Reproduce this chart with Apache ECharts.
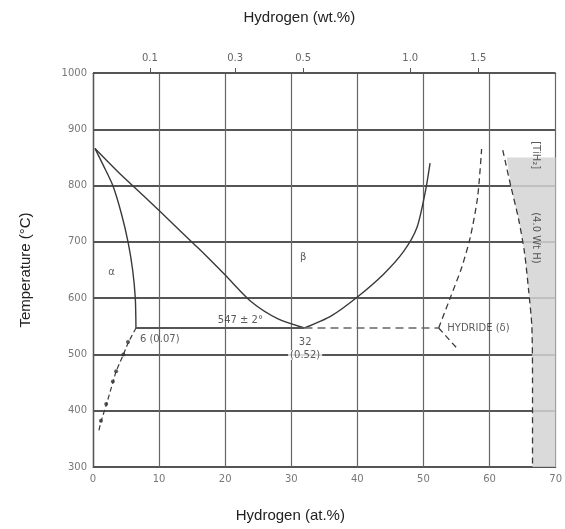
<!DOCTYPE html>
<html><head><meta charset="utf-8">
<script src="https://cdn.jsdelivr.net/npm/echarts@6/dist/echarts.min.js"></script>
<style>html,body{margin:0;padding:0;background:#fff}#c{width:565px;height:529px}</style>
</head><body><div id="c"></div>
<script>
// ---- data ----
const xTicks = [0,10,20,30,40,50,60,70];
const yTicks = [300,400,500,600,700,800,900,1000];
const wtLabels = ["0.1","0.3","0.5","1.0","1.5"];
const wtPositions = [8.6,21.5,31.8,48,58.3];

const alphaSolvus = [[0.3,866],[1.6,835],[3.0,800],[4.3,750],[5.3,700],[6.0,650],[6.4,600],[6.5,547]];
const alphaLow = [[6.5,547],[5.3,520],[4.6,500],[3.5,470],[3.0,450],[2.0,410],[1.2,380],[0.8,360]];
const alphaLowPts = [[5.3,522],[4.6,500],[3.5,470],[3.0,452],[2.0,412],[1.2,382]];
const betaTransus = [[0.3,866],[4,822],[8,778],[12,733],[16,688],[20,641],[24,593],[28,563],[32,547]];
const betaRight = [[32,547],[36,568],[40,602],[44,643],[47,683],[49,725],[50.3,790],[51,840]];
const eutectoidSolid = [[6.5,547],[32,547]];
const eutectoidDashed = [[32,547],[52.3,547]];
const hydrideBoundary = [[52.3,547],[54.1,602],[55.8,655],[57.1,709],[58.2,780],[58.8,865]];
const hydrideLower = [[52.3,547],[55.3,508]];
const rightBoundary = [[62,863],[63.2,800],[64.4,740],[65.3,680],[65.9,615],[66.4,550],[66.5,450],[66.5,300]];
const shadeRegion = [[62.6,850],[63.2,800],[64.4,740],[65.3,680],[65.9,615],[66.4,550],[66.5,450],[66.5,300],[70,300],[70,850]];

const labels = [
  {v:[2.8,645], t:"α", a:"center"},
  {v:[31.8,673], t:"β", a:"center"},
  {v:[22.3,561], t:"547 ± 2°", a:"center"},
  {v:[7.1,527], t:"6 (0.07)", a:"left"},
  {v:[32.1,522], t:"32", a:"center"},
  {v:[32.1,499], t:"(0.52)", a:"center", bg:true},
  {v:[53.6,547], t:"HYDRIDE (δ)", a:"left"}
];
const rotLabels = [
  {v:[67,854], t:"[TiH₂]"},
  {v:[67,707], t:"(4.0 Wt H)"}
];

const lineCol = '#3a3a3a';
const chart = echarts.init(document.getElementById('c'));
function line(data, opts){
  return Object.assign({type:'line', data, showSymbol:false, symbol:'none', smooth:false, silent:true,
    lineStyle:{color:lineCol, width:1.4}, z:5}, opts||{});
}
chart.setOption({
  animation:false,
  backgroundColor:'#fff',
  grid:{left:93, right:9, top:73, bottom:62},
  xAxis:[{
    type:'value', min:0, max:70, interval:10, position:'bottom',
    name:'Hydrogen (at.%)', nameLocation:'middle', nameGap:41,
    nameTextStyle:{color:'#222', fontSize:15, fontFamily:'Liberation Sans', padding:[0,68,0,0]},
    axisLine:{show:true, lineStyle:{color:'#555', width:1.2}},
    axisTick:{show:false},
    axisLabel:{color:'#777', fontSize:10, fontFamily:'DejaVu Sans', margin:7},
    splitLine:{show:true, lineStyle:{color:'#666', width:1.2}}
  },{
    type:'value', min:0, max:70, position:'top',
    name:'Hydrogen (wt.%)', nameLocation:'middle', nameGap:48,
    nameTextStyle:{color:'#222', fontSize:15, fontFamily:'Liberation Sans', padding:[0,50,0,0]},
    axisLine:{show:true, lineStyle:{color:'#555', width:1.2}},
    axisTick:{show:true, length:5, lineStyle:{color:'#555'}, customValues:wtPositions},
    axisLabel:{color:'#666', fontSize:10, fontFamily:'DejaVu Sans', margin:10, customValues:wtPositions,
      formatter:(v)=>{const i=wtPositions.indexOf(v); return i>=0?wtLabels[i]:'';}},
    splitLine:{show:false}
  }],
  yAxis:[{
    type:'value', min:300, max:1000, interval:100,
    name:'Temperature (°C)', nameLocation:'middle', nameGap:60,
    nameTextStyle:{color:'#222', fontSize:15, fontFamily:'Liberation Sans'},
    axisLine:{show:true, lineStyle:{color:'#555', width:1.2}},
    axisTick:{show:false},
    axisLabel:{color:'#777', fontSize:10, fontFamily:'DejaVu Sans', margin:6, formatter:(v)=>String(v)},
    splitLine:{show:true, lineStyle:{color:'#555', width:1.8}}
  },{
    type:'value', min:300, max:1000, position:'right',
    axisLine:{show:true, lineStyle:{color:'#555', width:1.2}},
    axisTick:{show:false}, axisLabel:{show:false}, splitLine:{show:false}
  }],
  series:[
    {type:'custom', silent:true, z:1, data:[0],
      renderItem:(params, api)=>({type:'polygon',
        shape:{points: shadeRegion.map(p=>api.coord(p))},
        style:{fill:'#d4d4d4', stroke:null, opacity:0.85}})},
    line(alphaSolvus, {smooth:0.25}),
    line(alphaLow, {smooth:0.2, lineStyle:{color:lineCol, width:1.2, type:[5,3]}}),
    {type:'scatter', data:alphaLowPts, symbolSize:4, itemStyle:{color:'#333'}, silent:true, z:6},
    line(betaTransus, {smooth:0.25}),
    line(betaRight, {smooth:0.25}),
    line(eutectoidSolid, {lineStyle:{color:'#555', width:2}}),
    line(eutectoidDashed, {lineStyle:{color:'#666', width:1.5, type:[8,5]}}),
    line(hydrideBoundary, {smooth:0.25, lineStyle:{color:lineCol, width:1.3, type:[6,4]}}),
    line(hydrideLower, {lineStyle:{color:lineCol, width:1.3, type:[6,4]}}),
    line(rightBoundary, {smooth:0.25, lineStyle:{color:lineCol, width:1.3, type:[6,4]}}),
    {type:'scatter', silent:true, z:10, symbolSize:0,
      data: labels.map(l=>({value:l.v, label:{show:true, position:'inside', formatter:l.t, align:l.a,
        color:'#333', fontSize:10, fontFamily:'DejaVu Sans', backgroundColor: l.bg?'#fff':'transparent', padding: l.bg?[0,2]:0}}))},
    {type:'scatter', silent:true, z:10, symbolSize:0,
      data: rotLabels.map(l=>({value:l.v, label:{show:true, position:'inside', formatter:l.t, rotate:-90,
        color:'#333', fontSize:10, fontFamily:'DejaVu Sans'}}))}
  ]
});
</script></body></html>
